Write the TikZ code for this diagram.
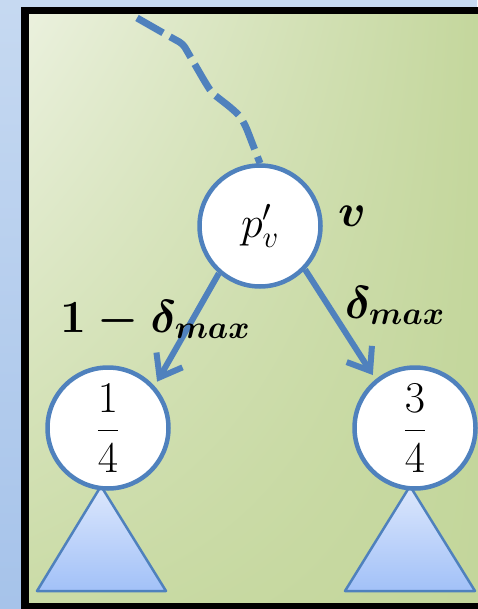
\RequirePackage{fix-cm}
\documentclass[tikz,border=0pt]{standalone}
\usepackage{amsmath}
\usetikzlibrary{arrows.meta,shadings}
\definecolor{edgeblue}{HTML}{4F81BD}
\definecolor{bgtop}{HTML}{C6D9F1}
\definecolor{bgbot}{HTML}{A6C3EA}
\definecolor{grnlight}{HTML}{EBF1DE}
\definecolor{grnmid}{HTML}{CADBA6}
\definecolor{grndark}{HTML}{C3D69B}
\definecolor{trilight}{HTML}{DCE7FC}
\definecolor{tridark}{HTML}{A2C1F8}

\begin{document}
\begin{tikzpicture}[x=1pt,y=-1pt,>={Straight Barb[length=20pt,width=30pt]},
   prob/.style={circle,draw=edgeblue,line width=4.5pt,fill=white,minimum size=121pt,inner sep=0pt,font=\fontsize{44}{50}\selectfont},
   arc/.style={edgeblue,line width=6pt,->,shorten >=5pt},
   lbl/.style={anchor=base west,inner sep=0pt,font=\fontsize{46}{52}\selectfont\boldmath},
   subtree/.style={draw=edgeblue,line width=2.5pt,line join=round,top color=trilight,bottom color=tridark}]
  \useasboundingbox (0,0) rectangle (477,609);
  % panel
  \shade[top color=bgtop,bottom color=bgbot] (0,0) rectangle (477,609);
  \shade[upper left=grnlight,upper right=grndark,lower left=grnmid,lower right=grndark] (25,10) rectangle (490,607);
  \draw[line width=7.5pt] (25,10.5) rectangle (490,607);
  % subtrees below the children
  \draw[subtree] (101,486) -- (166,591) -- (37,591) -- cycle;
  \draw[subtree] (410,486) -- (475,591) -- (345,591) -- cycle;
  % tree nodes
  \node[prob] (root) at (260,226) {$p'_v$};
  \node[prob] (left) at (108,428) {$\dfrac{1}{4}$};
  \node[prob] (right) at (415,428) {$\dfrac{3}{4}$};
  % path from the top
  \coordinate (top) at (137,18);
  \draw[edgeblue,line width=7pt,dash pattern=on 30pt off 8pt,rounded corners=4pt]
    (top) -- (165,34) -- (183,44) -- (205,82) -- (212,93) -- (230,107) -- (240,116) -- (246,127) -- (root.north);
  % edges
  \draw[arc] (root.229) -- (left.42);
  \draw[arc] (root.316) -- (right.129);
  % labels
  \node[lbl] (wleft) at (60,332) {$1-\delta_{max}$};
  \node[lbl] (wright) at (345,318) {$\delta_{max}$};
  \node[lbl] (vname) at (338,227) {$v$};
\end{tikzpicture}
\end{document}
